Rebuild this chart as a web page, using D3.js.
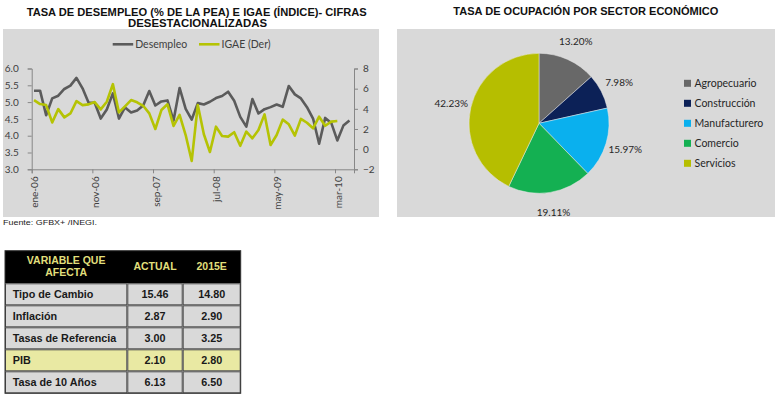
<!DOCTYPE html>
<html>
<head>
<meta charset="utf-8">
<script src="https://cdn.jsdelivr.net/npm/d3@7/dist/d3.min.js"></script>
<style>
body { margin: 0; background: #fff; }
svg { display: block; }
</style>
</head>
<body>
<svg id="page" width="777" height="397"></svg>
<script>
// monthly series, ene-06 onwards
var desempleo = [5.34, 5.34, 4.61, 5.11, 5.19, 5.39, 5.49, 5.72, 5.41, 4.98,
                 4.98, 4.51, 4.78, 5.26, 4.51, 4.84, 4.69, 4.75, 4.90, 5.33,
                 4.90, 5.02, 5.05, 4.45, 5.42, 4.80, 4.48, 4.97, 4.93, 5.01,
                 5.12, 5.18, 5.31, 5.04, 4.56, 4.27, 5.09, 4.66, 4.79, 4.85,
                 4.93, 4.86, 5.48, 5.23, 5.11, 4.85, 4.51, 3.76, 4.53, 4.38,
                 3.86, 4.30, 4.45];
var igae = [4.86, 4.47, 4.37, 2.65, 3.97, 3.15, 3.54, 4.77, 4.37, 4.44,
            4.67, 3.94, 4.70, 6.45, 3.64, 4.25, 4.87, 4.65, 4.30, 3.55,
            2.00, 3.88, 4.45, 2.30, 3.39, 1.40, -1.17, 4.38, 1.48, -0.28,
            2.23, 1.30, 1.24, 1.68, 0.33, 1.74, 1.07, 1.90, 3.45, 0.41,
            1.40, 2.93, 2.46, 1.35, 3.00, 2.62, 2.07, 3.22, 2.32, 2.73,
            2.79];
var tickMonths = [0, 10, 20, 30, 40, 50];
var tickLabels = ["ene-06", "nov-06", "sep-07", "jul-08", "may-09", "mar-10"];
var leftTicks = [3.0, 3.5, 4.0, 4.5, 5.0, 5.5, 6.0];
var rightTicks = [-2, 0, 2, 4, 6, 8];

var sectores = ["Agropecuario", "Construcción", "Manufacturero", "Comercio", "Servicios"];
var participacion = [13.20, 7.98, 15.97, 19.11, 42.23];
var sectorColors = ["#686868", "#0c2157", "#0ab0ee", "#14b052", "#b6be00"];

var variables = ["Tipo de Cambio", "Inflación", "Tasas de Referencia", "PIB", "Tasa de 10 Años"];
var actual = [15.46, 2.87, 3.00, 2.10, 6.13];
var estimado2015 = [14.80, 2.90, 3.25, 2.80, 6.50];

var svg = d3.select("#page");
var chartFont = "Lato, 'Noto Sans', sans-serif";
var boldFont = "'Liberation Sans', Arial, sans-serif";

drawLineChart();
drawPie();
drawTable();

function title(txt, cx, y, len) {
    svg.append("text")
        .attr("x", cx).attr("y", y)
        .attr("text-anchor", "middle")
        .attr("font-family", boldFont)
        .attr("font-weight", "bold")
        .attr("font-size", 11)
        .attr("fill", "#111")
        .attr("textLength", len)
        .attr("lengthAdjust", "spacingAndGlyphs")
        .text(txt);
}

function styleAxis(g) {
    g.select(".domain").attr("stroke", "#878787");
    g.selectAll(".tick line").attr("stroke", "#878787");
    g.selectAll(".tick text")
        .attr("fill", "#404040")
        .attr("font-family", chartFont)
        .attr("font-size", 10);
}

/*
Line chart: desempleo vs IGAE
*/
function drawLineChart() {
    title("TASA DE DESEMPLEO (% DE LA PEA) E IGAE (ÍNDICE)- CIFRAS", 196.7, 16, 340);
    title("DESESTACIONALIZADAS", 197.5, 27.3, 139);

    svg.append("rect")
        .attr("x", 3).attr("y", 29)
        .attr("width", 376).attr("height", 188)
        .attr("fill", "#d9d9d9");

    var x = d3.scaleLinear().domain([0, 53.13]).range([31.7, 354]);
    var yL = d3.scaleLinear().domain([3, 6]).range([169.3, 68.5]);
    var yR = d3.scaleLinear().domain([-2, 8]).range([169.3, 68.5]);

    var gl = svg.append("g").attr("transform", "translate(31.7,0)")
        .call(d3.axisLeft(yL).tickValues(leftTicks).tickFormat(d3.format(".1f"))
            .tickSize(4).tickPadding(9));
    styleAxis(gl);

    var gr = svg.append("g").attr("transform", "translate(354,0)")
        .call(d3.axisRight(yR).tickValues(rightTicks).tickSize(4).tickPadding(5));
    styleAxis(gr);

    var gx = svg.append("g").attr("transform", "translate(0,169.3)")
        .call(d3.axisBottom(x).tickValues(tickMonths)
            .tickFormat(function(d, i) { return tickLabels[i]; })
            .tickSize(4));
    styleAxis(gx);
    gx.selectAll(".tick text")
        .attr("transform", "rotate(-90)")
        .attr("text-anchor", "end")
        .attr("x", -7).attr("y", 0)
        .attr("dy", "0.62em");

    var lineL = d3.line()
        .x(function(d, i) { return x(i + 0.38); })
        .y(function(d) { return yL(d); });
    var lineR = d3.line()
        .x(function(d, i) { return x(i + 0.38); })
        .y(function(d) { return yR(d); });

    svg.append("path").datum(desempleo)
        .attr("fill", "none").attr("stroke", "#5b5b5b")
        .attr("stroke-width", 2.6).attr("stroke-linejoin", "round")
        .attr("d", lineL);
    svg.append("path").datum(igae)
        .attr("fill", "none").attr("stroke", "#b5c304")
        .attr("stroke-width", 2.6).attr("stroke-linejoin", "round")
        .attr("d", lineR);

    // legend
    var legend = [["Desempleo", "#5b5b5b", 112.7], ["IGAE (Der)", "#b5c304", 199]];
    legend.forEach(function(l) {
        svg.append("line")
            .attr("x1", l[2]).attr("x2", l[2] + 20.5)
            .attr("y1", 44.3).attr("y2", 44.3)
            .attr("stroke", l[1]).attr("stroke-width", 2.6);
        svg.append("text")
            .attr("x", l[2] + 22.5).attr("y", 44.3).attr("dy", "0.35em")
            .attr("font-family", chartFont).attr("font-size", 10.5)
            .attr("fill", "#404040")
            .text(l[0]);
    });

    svg.append("text")
        .attr("x", 3).attr("y", 225)
        .attr("font-family", boldFont).attr("font-size", 8)
        .attr("fill", "#222")
        .attr("textLength", 94).attr("lengthAdjust", "spacingAndGlyphs")
        .text("Fuente: GFBX+ /INEGI.");
}

/*
Pie: ocupacion por sector
*/
function drawPie() {
    title("TASA DE OCUPACIÓN POR SECTOR ECONÓMICO", 585.8, 15, 265);

    svg.append("rect")
        .attr("x", 397).attr("y", 29)
        .attr("width", 378).attr("height", 188)
        .attr("fill", "#d9d9d9");

    var pie = d3.pie().sort(null).value(function(d) { return d; });
    var arc = d3.arc().innerRadius(0).outerRadius(70);
    var labelArc = d3.arc().innerRadius(90).outerRadius(90);
    var color = d3.scaleOrdinal().domain(sectores).range(sectorColors);

    var g = svg.append("g").attr("transform", "translate(539,123.3)");
    var arcs = pie(participacion);

    g.selectAll("path.slice").data(arcs).enter().append("path")
        .attr("class", "slice")
        .attr("d", arc)
        .attr("fill", function(d, i) { return color(sectores[i]); })
        .attr("stroke", "#e8e8e8").attr("stroke-width", 0.5);

    g.selectAll("text.pct").data(arcs).enter().append("text")
        .attr("class", "pct")
        .attr("transform", function(d) { return "translate(" + labelArc.centroid(d) + ")"; })
        .attr("text-anchor", "middle").attr("dy", "0.35em")
        .attr("font-family", chartFont).attr("font-size", 10)
        .attr("fill", "#262626")
        .text(function(d) { return d.value.toFixed(2) + "%"; });

    var ly = d3.scalePoint().domain(sectores).range([83.3, 163.3]);
    var lg = svg.append("g");
    lg.selectAll("rect").data(sectores).enter().append("rect")
        .attr("x", 684).attr("y", function(d) { return ly(d) - 3.5; })
        .attr("width", 7).attr("height", 7)
        .attr("fill", function(d) { return color(d); });
    lg.selectAll("text").data(sectores).enter().append("text")
        .attr("x", 694.5).attr("y", function(d) { return ly(d); })
        .attr("dy", "0.35em")
        .attr("font-family", chartFont).attr("font-size", 10.5)
        .attr("fill", "#262626")
        .text(function(d) { return d; });
}

/*
Table: variables
*/
function drawTable() {
    var cols = [5, 127.3, 182.7, 240.7];
    var top = 250.7, headH = 32.6;
    var row = d3.scaleBand().domain(variables).range([top + headH, 393.3]);
    var txtStyle = function(t) {
        t.attr("font-family", boldFont).attr("font-weight", "bold")
         .attr("font-size", 10.8).attr("dy", "0.35em");
    };

    // header
    svg.append("rect")
        .attr("x", cols[0]).attr("y", top)
        .attr("width", cols[3] - cols[0]).attr("height", headH)
        .attr("fill", "#000");
    var head = [["VARIABLE QUE", (cols[0] + cols[1]) / 2, 260.5],
                ["AFECTA", (cols[0] + cols[1]) / 2, 272.8],
                ["ACTUAL", (cols[1] + cols[2]) / 2, 266.7],
                ["2015E", (cols[2] + cols[3]) / 2, 266.7]];
    head.forEach(function(h) {
        svg.append("text")
            .attr("x", h[1]).attr("y", h[2])
            .attr("text-anchor", "middle")
            .attr("fill", "#e0df7c")
            .call(txtStyle)
            .attr("font-size", 10.5)
            .text(h[0]);
    });

    variables.forEach(function(v, i) {
        var y = row(v), h = row.bandwidth();
        var fill = v == "PIB" ? "#e9e9a3" : "#d9d9d9";
        for (var c = 0; c < 3; c++) {
            svg.append("rect")
                .attr("x", cols[c] + 0.5).attr("y", y + 0.5)
                .attr("width", cols[c + 1] - cols[c] - 1).attr("height", h - 1)
                .attr("fill", fill)
                .attr("stroke", "#4a4a4a").attr("stroke-width", 1);
        }
        svg.append("text")
            .attr("x", 12.7).attr("y", y + h / 2)
            .attr("fill", "#1a1a1a").call(txtStyle)
            .text(v);
        svg.append("text")
            .attr("x", (cols[1] + cols[2]) / 2).attr("y", y + h / 2)
            .attr("text-anchor", "middle")
            .attr("fill", "#1a1a1a").call(txtStyle)
            .text(actual[i].toFixed(2));
        svg.append("text")
            .attr("x", (cols[2] + cols[3]) / 2).attr("y", y + h / 2)
            .attr("text-anchor", "middle")
            .attr("fill", "#1a1a1a").call(txtStyle)
            .text(estimado2015[i].toFixed(2));
    });

    svg.append("rect")
        .attr("x", cols[0]).attr("y", top)
        .attr("width", cols[3] - cols[0]).attr("height", 393.3 - top)
        .attr("fill", "none").attr("stroke", "#333").attr("stroke-width", 1);
}
</script>
</body>
</html>
